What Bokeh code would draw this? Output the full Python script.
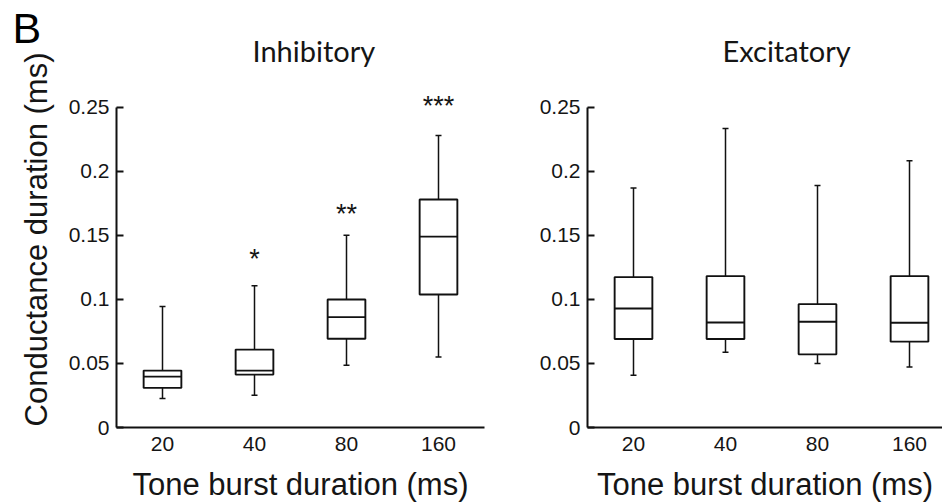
import numpy as np
from bokeh.plotting import figure
from bokeh.layouts import row
from bokeh.models import Range1d, FixedTicker, ColumnDataSource, Label
from bokeh.embed import file_html
from bokeh.resources import INLINE

# ---- data ----
tone_labels = ["20", "40", "80", "160"]
positions = [1, 2, 3, 4]

inh_lower = [0.0226, 0.0252, 0.0485, 0.0551]
inh_q1 = [0.0309, 0.0413, 0.0693, 0.1038]
inh_median = [0.0397, 0.0444, 0.0862, 0.1490]
inh_q3 = [0.0444, 0.0608, 0.0999, 0.1780]
inh_upper = [0.0945, 0.1106, 0.1500, 0.2280]
inh_stars = ["", "*", "**", "***"]
inh_star_y = [None, 0.1316, 0.1670, 0.2510]

exc_lower = [0.0407, 0.0587, 0.0499, 0.0473]
exc_q1 = [0.0691, 0.0691, 0.0571, 0.0670]
exc_median = [0.0929, 0.0820, 0.0826, 0.0818]
exc_q3 = [0.1174, 0.1182, 0.0963, 0.1182]
exc_upper = [0.1870, 0.2335, 0.1890, 0.2082]

y_ticks = [0, 0.05, 0.1, 0.15, 0.2, 0.25]
y_tick_labels = ["0", "0.05", "0.1", "0.15", "0.2", "0.25"]

y_axis_title = "Conductance duration (ms)"
x_axis_title = "Tone burst duration (ms)"
panel_letter = "B"
panel_titles = ["Inhibitory", "Excitatory"]

TXT = "#151515"
LINE = "#111111"
BOX_W = 0.41
FONT = "Liberation Sans"
FRAME_H = 428          # frame spans the canvas from its top down to the x axis
PX_PER_UNIT = 92
Y_TOP = 0.25 * FRAME_H / 321.0


def make_panel(title, lower, q1, med, q3, upper, width, border_left, x_end, title_x):
    p = figure(width=width, height=504, output_backend="svg", toolbar_location=None,
               x_range=Range1d(0.5, x_end), y_range=Range1d(0, Y_TOP),
               min_border_left=border_left,
               min_border_right=width - border_left - int(round((x_end - 0.5) * PX_PER_UNIT)),
               min_border_top=0, min_border_bottom=504 - FRAME_H)
    p.outline_line_color = None
    p.xgrid.visible = False
    p.ygrid.visible = False
    p.background_fill_color = "white"
    p.border_fill_color = "white"

    xa = p.xaxis[0]
    xa.ticker = FixedTicker(ticks=positions)
    xa.major_label_overrides = {pos: lab for pos, lab in zip(positions, tone_labels)}
    xa.major_tick_in = 0
    xa.major_tick_out = 0
    xa.minor_tick_in = 0
    xa.minor_tick_out = 0
    xa.axis_line_width = 2
    xa.axis_line_color = LINE
    xa.major_label_text_font = FONT
    xa.major_label_text_font_size = "21px"
    xa.major_label_text_color = TXT
    xa.major_label_standoff = 9
    xa.axis_label = x_axis_title
    xa.axis_label_text_font = FONT
    xa.axis_label_text_font_size = "31px"
    xa.axis_label_text_font_style = "normal"
    xa.axis_label_text_color = TXT
    xa.axis_label_standoff = 13
    xa.bounds = (0.5, 4.5)

    ya = p.yaxis[0]
    ya.ticker = FixedTicker(ticks=y_ticks)
    ya.major_label_overrides = {t: l for t, l in zip(y_ticks, y_tick_labels)}
    ya.bounds = (0, 0.25)
    ya.major_tick_in = 7
    ya.major_tick_out = 0
    ya.major_tick_line_width = 2
    ya.major_tick_line_color = LINE
    ya.minor_tick_in = 0
    ya.minor_tick_out = 0
    ya.axis_line_width = 2
    ya.axis_line_color = LINE
    ya.major_label_text_font = FONT
    ya.major_label_text_font_size = "21px"
    ya.major_label_text_color = TXT
    ya.major_label_standoff = 7

    src = ColumnDataSource(dict(
        x=positions, lower=lower, q1=q1, med=med, q3=q3, upper=upper,
        x0=[x - BOX_W / 2 for x in positions], x1=[x + BOX_W / 2 for x in positions],
    ))
    p.segment(x0="x", y0="q3", x1="x", y1="upper", source=src, line_color=LINE, line_width=1.5)
    p.segment(x0="x", y0="lower", x1="x", y1="q1", source=src, line_color=LINE, line_width=1.5)
    p.scatter(x="x", y="upper", source=src, marker="dash", size=6, line_color=LINE, line_width=1.5)
    p.scatter(x="x", y="lower", source=src, marker="dash", size=6, line_color=LINE, line_width=1.5)
    p.vbar(x="x", width=BOX_W, bottom="q1", top="q3", source=src,
           fill_color="white", line_color=LINE, line_width=1.9)
    p.segment(x0="x0", y0="med", x1="x1", y1="med", source=src, line_color=LINE, line_width=1.9)

    # panel title
    p.add_layout(Label(x=title_x, y=FRAME_H - 51, x_units="screen", y_units="screen",
                       text=title, text_align="left", text_baseline="alphabetic",
                       text_font="Lato", text_font_size="29px", text_color=TXT))
    return p


# narrow strip on the left holding the panel letter and the y axis title
LW = 64
lab = figure(width=LW, height=504, output_backend="svg", toolbar_location=None,
             x_range=Range1d(0, 1), y_range=Range1d(0, 1),
             x_axis_location=None, y_axis_location=None,
             min_border_left=0, min_border_right=0, min_border_top=0, min_border_bottom=504 - FRAME_H)
lab.outline_line_color = None
lab.grid.visible = False
lab.border_fill_color = "white"
lab.background_fill_color = "white"
lab.add_layout(Label(x=12, y=FRAME_H - 28, x_units="screen", y_units="screen",
                     text=panel_letter, text_align="left", text_baseline="alphabetic",
                     text_font=FONT, text_font_size="43px", text_color="#000000"))
lab.add_layout(Label(x=36, y=FRAME_H - 240, x_units="screen", y_units="screen", angle=np.pi / 2,
                     text=y_axis_title, text_align="center", text_baseline="alphabetic",
                     text_font=FONT, text_font_size="31px", text_color=TXT))

p1 = make_panel(panel_titles[0], inh_lower, inh_q1, inh_median, inh_q3, inh_upper,
                width=500 - LW, border_left=116 - LW, x_end=4.5, title_x=136)
p2 = make_panel(panel_titles[1], exc_lower, exc_q1, exc_median, exc_q3, exc_upper,
                width=442, border_left=87, x_end=0.5 + 355 / PX_PER_UNIT, title_x=135)

# significance stars
star_src = ColumnDataSource(dict(
    x=[x for x, s in zip(positions, inh_stars) if s],
    y=[y for y, s in zip(inh_star_y, inh_stars) if s],
    t=[s for s in inh_stars if s],
))
p1.text(x="x", y="y", text="t", source=star_src, text_align="center", text_baseline="middle",
        text_font_size="27px", text_color=TXT, text_font={"value": FONT})

layout = row(lab, p1, p2)
open("out.html", "w").write(file_html(layout, INLINE))
